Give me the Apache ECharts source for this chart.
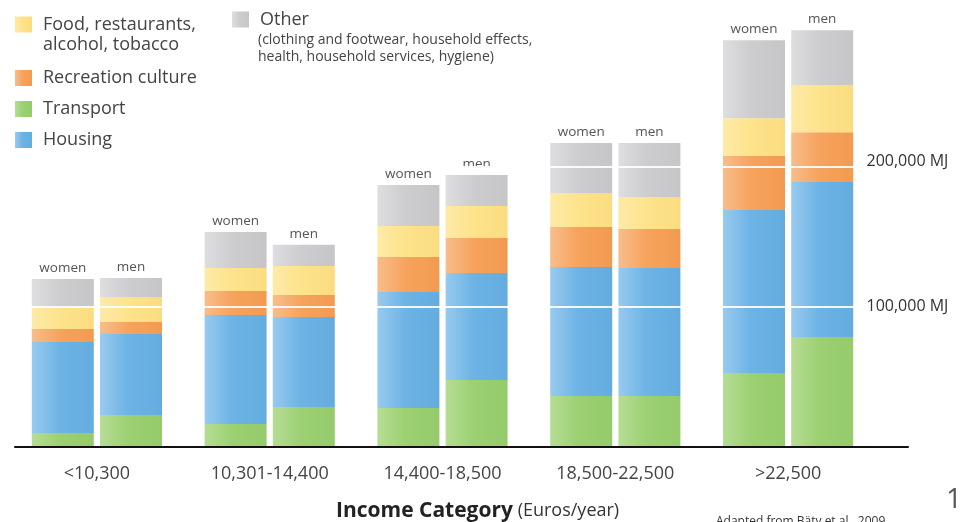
<!DOCTYPE html>
<html>
<head>
<meta charset="utf-8">
<script src="https://cdn.jsdelivr.net/npm/echarts@6/dist/echarts.min.js"></script>
<style>
html,body{margin:0;padding:0;background:#fff;}
#chart{width:961px;height:522px;}
</style>
</head>
<body>
<div id="chart"></div>
<script>
// ---- data (MJ per person) ----
const categories = ['<10,300', '10,301-14,400', '14,400-18,500', '18,500-22,500', '>22,500'];
const transportWomen  = [9300, 15800, 27200, 35800, 52300];
const transportMen    = [22200, 28000, 47300, 35800, 78100];
const housingWomen    = [65200, 78100, 83200, 92500, 116800];
const housingMen      = [58100, 64500, 76700, 91800, 111100];
const recreationWomen = [9300, 17200, 25100, 28700, 38700];
const recreationMen   = [8600, 15800, 25100, 28000, 35800];
const foodWomen       = [15100, 16500, 22200, 24400, 27200];
const foodMen         = [17900, 20800, 22900, 22900, 33700];
const otherWomen      = [20800, 25800, 29400, 35800, 55900];
const otherMen        = [13600, 15100, 22200, 38700, 39400];
const refLines = [100000, 200000];
const refLabels = {100000: '100,000 MJ', 200000: '200,000 MJ'};

const FONT = 'Open Sans';
const chart = echarts.init(document.getElementById('chart'));

function grad(light, base, dark) {
  return new echarts.graphic.LinearGradient(0, 0, 1, 0, [
    {offset: 0, color: light}, {offset: 0.45, color: base}, {offset: 1, color: dark}
  ]);
}
const C = {
  transport: grad('#b6dd94', '#9cd073', '#95cb6b'),
  housing: grad('#98caee', '#6db3e5', '#64acdf'),
  recreation: grad('#f8bd8c', '#f6a35d', '#f39a51'),
  food: grad('#feeaa8', '#fde38c', '#fbdc80'),
  other: grad('#dedee0', '#cdcdcf', '#c6c6c8')
};
const solid = {transport: '#94cd6a', housing: '#6ab2e3', recreation: '#f5a05a', food: '#fddf85', other: '#c9c9cb'};

const NAMES = {
  transport: 'Transport',
  housing: 'Housing',
  recreation: 'Recreation culture',
  food: 'Food, restaurants, alcohol, tobacco',
  other: 'Other'
};

function bar(key, stack, data, topLabel) {
  const s = {
    name: NAMES[key], type: 'bar', stack: stack, data: data,
    barWidth: 62, barGap: '10%',
    itemStyle: {color: C[key]},
    emphasis: {disabled: true},
    silent: true
  };
  if (topLabel) {
    s.label = {show: true, position: 'top', distance: 4, formatter: topLabel,
      fontFamily: FONT, fontSize: 13.5, color: '#555'};
  }
  return s;
}

const series = [
  bar('transport', 'w', transportWomen),
  bar('housing', 'w', housingWomen),
  bar('recreation', 'w', recreationWomen),
  bar('food', 'w', foodWomen),
  bar('other', 'w', otherWomen, 'women'),
  bar('transport', 'm', transportMen),
  bar('housing', 'm', housingMen),
  bar('recreation', 'm', recreationMen),
  bar('food', 'm', foodMen),
  bar('other', 'm', otherMen, 'men'),
  {
    type: 'line', data: [], z: 10, silent: true,
    markLine: {
      silent: true, symbol: 'none', label: {show: false},
      lineStyle: {color: 'rgba(255,255,255,0.9)', width: 2, type: 'solid'},
      data: refLines.map(v => ({yAxis: v}))
    }
  }
];

const legendText = {fontFamily: FONT, fontSize: 18, color: '#444', lineHeight: 20, padding: [0, 0, 0, 6]};
const legendIcon = {itemWidth: 17, itemHeight: 16, icon: 'rect', selectedMode: false, padding: 0};

chart.setOption({
  backgroundColor: '#fff',
  animation: false,
  textStyle: {fontFamily: FONT},
  color: [solid.transport, solid.housing, solid.recreation, solid.food, solid.other],
  grid: [
    {left: 10.5, right: 86.5, top: 27.5, bottom: 76},
    {left: 15, right: 53, top: 27.5, bottom: 75}
  ],
  xAxis: [
    {
      type: 'category', data: categories, gridIndex: 0,
      axisLine: {show: false}, axisTick: {show: false},
      axisLabel: {fontFamily: FONT, fontSize: 18, color: '#444', margin: 19}
    },
    {
      type: 'value', gridIndex: 1, min: 0, max: 1,
      axisLine: {show: true, lineStyle: {color: '#111', width: 2}},
      axisTick: {show: false}, axisLabel: {show: false}, splitLine: {show: false}
    }
  ],
  yAxis: [
    {
      type: 'value', gridIndex: 0, position: 'right', min: 0, max: 300000, interval: 100000, z: 20,
      axisLine: {show: false}, axisTick: {show: false}, splitLine: {show: false},
      axisLabel: {
        margin: -8, fontFamily: FONT, fontSize: 16, color: '#333',
        formatter: v => refLabels[v] ? (v === 200000 ? '{up|' + refLabels[v] + '}' : '{n|' + refLabels[v] + '}') : '',
        rich: {
          up: {fontFamily: FONT, fontSize: 16, color: '#333', padding: [0, 0, 12, 0]},
          n: {fontFamily: FONT, fontSize: 16, color: '#333'}
        }
      }
    },
    {type: 'value', gridIndex: 1, min: 0, max: 1, show: false}
  ],
  legend: [
    Object.assign({left: 15, top: 14.5, data: [NAMES.food],
      formatter: () => 'Food, restaurants,', textStyle: legendText}, legendIcon),
    Object.assign({left: 15, top: 68, orient: 'vertical', itemGap: 11,
      data: [NAMES.recreation, NAMES.transport, NAMES.housing], textStyle: legendText}, legendIcon),
    Object.assign({left: 232, top: 9.5, data: [NAMES.other], textStyle: legendText}, legendIcon)
  ],
  title: [
    {text: 'alcohol, tobacco', left: 43, top: 35, padding: 0,
      textStyle: {fontFamily: FONT, fontSize: 18, fontWeight: 'normal', color: '#444', lineHeight: 20}},
    {text: '(clothing and footwear, household effects,\nhealth, household services, hygiene)', left: 258, top: 31.5, padding: 0,
      textStyle: {fontFamily: FONT, fontSize: 14, fontWeight: 'normal', color: '#444', lineHeight: 17}},
    {text: '{b|Income Category} {n|(Euros/year)}', left: 336, top: 499, padding: 0,
      textStyle: {rich: {
        b: {fontFamily: FONT, fontSize: 21, fontWeight: 'bold', color: '#222', lineHeight: 24},
        n: {fontFamily: FONT, fontSize: 18, fontWeight: 'normal', color: '#333', lineHeight: 24}
      }}},
    {text: 'Adapted from Bäty et al., 2009', left: 716, top: 515, padding: 0,
      textStyle: {fontFamily: FONT, fontSize: 12, fontWeight: 'normal', color: '#333', lineHeight: 14}},
    {text: '1', left: 946, top: 484, padding: 0,
      textStyle: {fontFamily: FONT, fontSize: 28, fontWeight: 'normal', color: '#555', lineHeight: 32}}
  ],
  series: series
});
</script>
</body>
</html>
